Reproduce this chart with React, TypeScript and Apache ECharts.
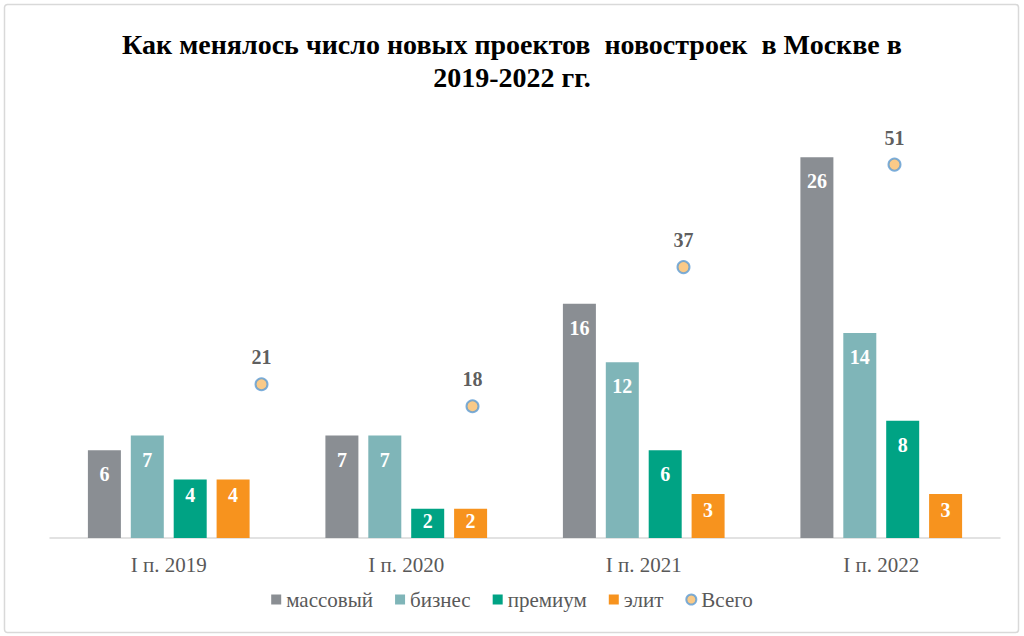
import React, { useEffect, useRef } from "react";
import * as echarts from "echarts";

const categories = ["I п. 2019", "I п. 2020", "I п. 2021", "I п. 2022"];
const massovy = [6, 7, 16, 26];
const biznes = [7, 7, 12, 14];
const premium = [4, 2, 6, 8];
const elit = [4, 2, 3, 3];
const vsego = [21, 18, 37, 51];
const seriesNames = ["массовый", "бизнес", "премиум", "элит", "Всего"];
const titleText = "Как менялось число новых проектов  новостроек  в Москве в\n2019-2022 гг.";

const FONT = "Liberation Serif";

export default function App() {
  const ref = useRef<HTMLDivElement>(null);
  useEffect(() => {
    if (!ref.current) return;
    const chart = echarts.init(ref.current, null, { renderer: "svg" });
    const barLabel = {
      show: true,
      position: "insideTop",
      distance: 14,
      color: "#ffffff",
      fontFamily: FONT,
      fontWeight: "bold",
      fontSize: 20,
    };
    const bar = (name: string, data: number[], color: string) => ({
      name,
      type: "bar",
      xAxisIndex: 0,
      yAxisIndex: 0,
      data: data.map((v) =>
        v < 3 ? { value: v, label: { distance: 2 } } : v < 5 ? { value: v, label: { distance: 6 } } : v
      ),
      barWidth: 33,
      barGap: "30%",
      itemStyle: { color },
      label: barLabel,
    });
    chart.setOption({
      animation: false,
      backgroundColor: "#ffffff",
      textStyle: { fontFamily: FONT },
      title: {
        text: titleText,
        left: "center",
        top: 23,
        textStyle: {
          fontFamily: FONT,
          fontWeight: "bold",
          fontSize: 28,
          lineHeight: 33,
          color: "#000000",
        },
      },
      graphic: [
        {
          type: "rect",
          shape: { x: 4.5, y: 4.5, width: 1014, height: 628, r: 3 },
          style: { fill: "none", stroke: "#d9d9d9", lineWidth: 1.5 },
          silent: true,
        },
      ],
      legend: {
        bottom: 21,
        left: "center",
        itemGap: 22,
        itemWidth: 10,
        itemHeight: 10,
        textStyle: { fontFamily: FONT, fontSize: 21, color: "#595959" },
        data: [
          { name: seriesNames[0], icon: "rect" },
          { name: seriesNames[1], icon: "rect" },
          { name: seriesNames[2], icon: "rect" },
          { name: seriesNames[3], icon: "rect" },
          { name: seriesNames[4], icon: "circle" },
        ],
      },
      grid: [
        { left: 50, right: 24, top: 128, bottom: 98 },
        { left: 156, right: 24, top: 128, bottom: 98 },
      ],
      xAxis: [
        {
          type: "category",
          gridIndex: 0,
          data: categories,
          axisLine: { lineStyle: { color: "#d9d9d9", width: 1.5 } },
          axisTick: { show: false },
          axisLabel: { fontFamily: FONT, fontSize: 21, color: "#595959", margin: 16 },
        },
        {
          type: "category",
          gridIndex: 1,
          data: categories,
          show: false,
        },
      ],
      yAxis: [
        {
          type: "value",
          gridIndex: 0,
          min: 0,
          max: 28,
          show: false,
          splitLine: { show: false },
        },
        {
          type: "value",
          gridIndex: 1,
          min: 0,
          max: 56,
          show: false,
          splitLine: { show: false },
        },
      ],
      series: [
        bar(seriesNames[0], massovy, "#8a8e93"),
        bar(seriesNames[1], biznes, "#7fb5b8"),
        bar(seriesNames[2], premium, "#00a384"),
        bar(seriesNames[3], elit, "#f7931e"),
        {
          name: seriesNames[4],
          type: "scatter",
          xAxisIndex: 1,
          yAxisIndex: 1,
          data: vsego,
          symbol: "circle",
          symbolSize: 12,
          itemStyle: { color: "#f9bd6a", borderColor: "#5b9bd5", borderWidth: 2 },
          label: {
            show: true,
            position: "top",
            distance: 10,
            color: "#333333",
            fontFamily: FONT,
            fontWeight: "bold",
            fontSize: 20,
          },
        },
      ],
    });
    return () => chart.dispose();
  }, []);
  return (
    <div
      ref={ref}
      style={{ position: "fixed", left: 0, top: 0, width: 1024, height: 636 }}
    />
  );
}
